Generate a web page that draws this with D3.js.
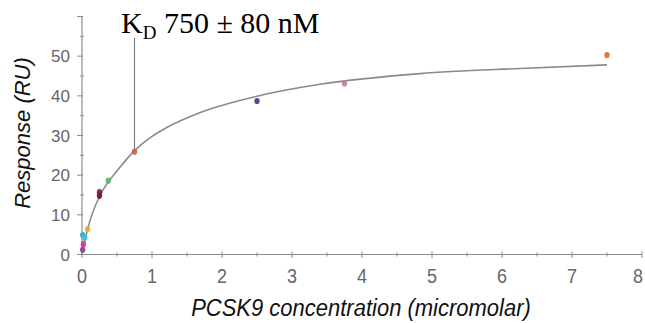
<!DOCTYPE html>
<html>
<head>
<meta charset="utf-8">
<script src="https://cdn.jsdelivr.net/npm/d3@7/dist/d3.min.js"></script>
<style>
  html, body { margin: 0; padding: 0; background: #fff; }
  svg { display: block; }
</style>
</head>
<body>
<svg id="chart" width="645" height="323"></svg>
<script>
// Measured binding responses (concentration in micromolar, response in RU)
const concentration = [0.01, 0.02, 0.01, 0.04, 0.08, 0.25, 0.25, 0.375, 0.75, 2.5, 3.75, 7.5];
const response      = [1.2, 2.6, 4.9, 4.2, 6.4, 14.8, 15.7, 18.6, 25.9, 38.7, 43.1, 50.3];
const pointColors   = ["#8a3a9a", "#d03a8a", "#3aa8b8", "#40b8e0", "#e8a830", "#6e1030",
                       "#7a1838", "#58b858", "#d85a38", "#3a3a8a", "#c87a98", "#e06818"];

// Fitted saturation curve, sampled along x
const fitX = [0.02, 0.08, 0.26, 0.38, 0.51, 0.75, 1.0, 1.21, 1.69, 2.5, 3.4, 4.83, 6.26, 7.5];
const fitY = [1.8, 6.4, 15.0, 18.4, 21.3, 26.2, 29.8, 32.0, 35.8, 39.9, 42.9, 45.6, 46.9, 47.8];

const xTicks = [0, 1, 2, 3, 4, 5, 6, 7, 8];
const yTicks = [0, 10, 20, 30, 40, 50];

const kdValue = 0.75;   // micromolar
const svg = d3.select("#chart");

const x = d3.scaleLinear().domain([0, 8]).range([82, 642]);
const y = d3.scaleLinear().domain([0, 60]).range([254.5, 16.5]);

const axisColor = "#8c8c8c";
const labelColor = "#666";

// y axis: major ticks every 10 pointing left, minor ticks every 5
const yAxis = svg.append("g").attr("transform", `translate(${x(0)},0)`);
yAxis.append("line").attr("y1", y(0)).attr("y2", y(60))
  .attr("stroke", axisColor).attr("stroke-width", 1.2);
yAxis.selectAll("line.minor").data(d3.range(5, 61, 10)).join("line")
  .attr("class", "minor").attr("x1", -2).attr("x2", 2)
  .attr("y1", d => y(d)).attr("y2", d => y(d))
  .attr("stroke", axisColor).attr("stroke-width", 1);
yAxis.selectAll("line.major").data(d3.range(0, 61, 10)).join("line")
  .attr("class", "major").attr("x1", -5).attr("x2", 1)
  .attr("y1", d => y(d)).attr("y2", d => y(d))
  .attr("stroke", axisColor).attr("stroke-width", 1);
yAxis.selectAll("text").data(yTicks).join("text")
  .attr("x", -12).attr("y", d => y(d) + 6)
  .attr("text-anchor", "end")
  .attr("font-family", "'Liberation Sans', Arial, sans-serif")
  .attr("font-size", 17).attr("fill", labelColor)
  .text(d => d);

// x axis: major ticks on integers, minor ticks at halves
const xAxis = svg.append("g").attr("transform", `translate(0,${y(0)})`);
xAxis.append("line").attr("x1", x(0)).attr("x2", x(8))
  .attr("stroke", axisColor).attr("stroke-width", 1.2);
xAxis.selectAll("line.minor").data(d3.range(0.5, 8, 1)).join("line")
  .attr("class", "minor").attr("y1", -2).attr("y2", 2)
  .attr("x1", d => x(d)).attr("x2", d => x(d))
  .attr("stroke", axisColor).attr("stroke-width", 1);
xAxis.selectAll("line.major").data(xTicks).join("line")
  .attr("class", "major").attr("y1", -3).attr("y2", 3.5)
  .attr("x1", d => x(d)).attr("x2", d => x(d))
  .attr("stroke", axisColor).attr("stroke-width", 1);
xAxis.selectAll("text").data(xTicks).join("text")
  // the last label sits against the right edge, so nudge it inward
  .attr("transform", d => `translate(${Math.min(x(d), 638)},28) scale(1,1.1)`)
  .attr("text-anchor", "middle")
  .attr("font-family", "'Liberation Sans', Arial, sans-serif")
  .attr("font-size", 18).attr("fill", labelColor)
  .text(d => d);

// Axis titles
svg.append("text")
  .attr("transform", `translate(30,133) rotate(-90)`)
  .attr("text-anchor", "middle")
  .attr("font-family", "'Liberation Sans', Arial, sans-serif")
  .attr("font-style", "italic").attr("font-size", 22).attr("fill", "#111")
  .text("Response (RU)");

svg.append("text")
  .attr("transform", `translate(361,316) scale(1,1.12)`)
  .attr("text-anchor", "middle")
  .attr("font-family", "'Liberation Sans', Arial, sans-serif")
  .attr("font-style", "italic").attr("font-size", 22).attr("fill", "#111")
  .text("PCSK9 concentration (micromolar)");

// Fitted curve
const line = d3.line().x((d, i) => x(fitX[i])).y(d => y(d)).curve(d3.curveMonotoneX);
svg.append("path").datum(fitY)
  .attr("d", line).attr("fill", "none")
  .attr("stroke", "#8a8a8a").attr("stroke-width", 1.6);

// Data points
svg.append("g").selectAll("ellipse").data(concentration).join("ellipse")
  .attr("cx", d => x(d)).attr("cy", (d, i) => y(response[i]))
  .attr("rx", 2.7).attr("ry", 3.1)
  .attr("fill", (d, i) => pointColors[i]).attr("opacity", 0.9);

// KD marker line and label
const kdAtCurve = fitY[fitX.indexOf(kdValue)];
svg.append("line")
  .attr("x1", x(kdValue)).attr("x2", x(kdValue))
  .attr("y1", 38).attr("y2", y(kdAtCurve))
  .attr("stroke", "#777").attr("stroke-width", 1.1);

const kd = svg.append("text")
  .attr("x", 121).attr("y", 33)
  .attr("font-family", "'Liberation Serif', 'Times New Roman', serif")
  .attr("font-size", 30).attr("fill", "#000");
kd.append("tspan").text("K");
kd.append("tspan").attr("font-size", 19).attr("dy", 6).text("D");
kd.append("tspan").attr("dy", -6).text(" 750 ± 80 nM");
</script>
</body>
</html>
